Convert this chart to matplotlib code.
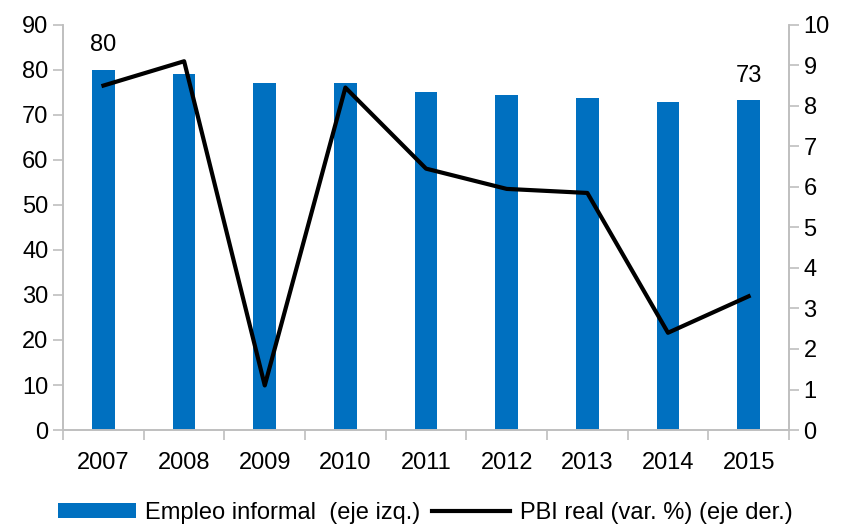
import matplotlib.pyplot as plt
import numpy as np

plt.rcParams['font.family'] = ['Liberation Sans', 'DejaVu Sans']

years = ['2007', '2008', '2009', '2010', '2011', '2012', '2013', '2014', '2015']
empleo_informal = [80.0, 79.1, 77.1, 77.1, 75.1, 74.3, 73.7, 72.8, 73.2]
pbi_real = [8.5, 9.1, 1.1, 8.45, 6.45, 5.95, 5.85, 2.4, 3.3]
labels_shown = {0: '80', 8: '73'}

blue = '#0070C0'
gray = '#BFBFBF'
fs = 17

fig = plt.figure(figsize=(8.42, 5.27), dpi=100)
ax = fig.add_axes([0.075, 0.184, 0.862, 0.769])
x = np.arange(len(years))

bars = ax.bar(x, empleo_informal, width=0.28, color=blue, label='Empleo informal  (eje izq.)', zorder=2)
for i, txt in labels_shown.items():
    ax.text(x[i], empleo_informal[i] + 3, txt, ha='center', va='bottom', fontsize=fs)

ax.set_xlim(-0.5, len(years) - 0.5)
ax.set_ylim(0, 90)
ax.set_yticks(range(0, 91, 10))
ax.set_xticks(x)
ax.set_xticklabels(years)
ax.set_xticks(np.arange(-0.5, len(years), 1), minor=True)
ax.tick_params(axis='x', which='major', length=0, pad=16, labelsize=fs)
ax.tick_params(axis='x', which='minor', length=7, color=gray, width=1.2)
ax.tick_params(axis='y', length=7, color=gray, width=1.2, labelsize=fs)

ax2 = ax.twinx()
line, = ax2.plot(x, pbi_real, color='black', lw=3, label='PBI real (var. %) (eje der.)', zorder=3)
ax2.set_ylim(0, 10)
ax2.set_yticks(range(0, 11))
ax2.tick_params(axis='y', length=7, color=gray, width=1.2, labelsize=fs)

for a in (ax, ax2):
    a.spines['top'].set_visible(False)
    for s in ['left', 'right', 'bottom']:
        a.spines[s].set_color(gray)
        a.spines[s].set_linewidth(1.2)

fig.legend([bars, line], ['Empleo informal  (eje izq.)', 'PBI real (var. %) (eje der.)'],
           loc='center', bbox_to_anchor=(0.505, 0.026), ncol=2, frameon=False,
           fontsize=fs, handlelength=3.3, handleheight=0.6, handletextpad=0.4, columnspacing=0.5)

plt.savefig('out.png', dpi=100)
